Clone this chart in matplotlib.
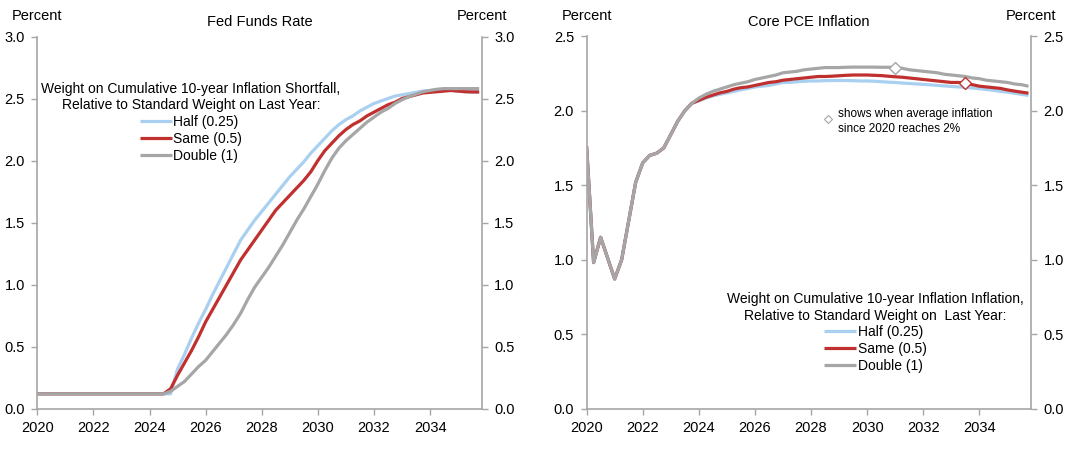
import numpy as np
import matplotlib
matplotlib.use("Agg")
import matplotlib.pyplot as plt
from matplotlib.ticker import FormatStrFormatter

plt.rcParams['font.family'] = ['Liberation Sans', 'DejaVu Sans']

# quarterly dates, 2020Q1 .. 2035Q4
dates = 2020 + 0.25 * np.arange(64)

# Fed funds rate, percent (flat at the floor through mid-2024)
ffr_half = [0.12] * 19 + [
    0.12, 0.32, 0.44, 0.57, 0.69, 0.80, 0.92, 1.03, 1.14, 1.25, 1.36, 1.44, 1.52,
    1.59, 1.66, 1.73, 1.80, 1.87, 1.93, 1.99, 2.06, 2.12, 2.18, 2.24, 2.29, 2.33,
    2.36, 2.40, 2.43, 2.46, 2.48, 2.50, 2.52, 2.53, 2.54, 2.55, 2.56, 2.565, 2.57,
    2.57, 2.565, 2.56, 2.555, 2.553, 2.553]
ffr_same = [0.12] * 19 + [
    0.16, 0.27, 0.37, 0.47, 0.58, 0.70, 0.80, 0.90, 1.00, 1.10, 1.20, 1.28, 1.36,
    1.44, 1.52, 1.60, 1.66, 1.72, 1.78, 1.84, 1.91, 2.00, 2.08, 2.14, 2.20, 2.25,
    2.29, 2.32, 2.36, 2.39, 2.42, 2.45, 2.47, 2.50, 2.515, 2.53, 2.545, 2.55, 2.555,
    2.56, 2.565, 2.56, 2.555, 2.553, 2.553]
ffr_double = [0.12] * 19 + [
    0.14, 0.18, 0.22, 0.28, 0.34, 0.39, 0.46, 0.53, 0.60, 0.68, 0.77, 0.88, 0.98,
    1.06, 1.14, 1.23, 1.32, 1.42, 1.52, 1.61, 1.71, 1.81, 1.92, 2.02, 2.10, 2.16,
    2.21, 2.26, 2.31, 2.35, 2.39, 2.42, 2.46, 2.49, 2.515, 2.535, 2.555, 2.565, 2.575,
    2.58, 2.58, 2.58, 2.58, 2.58, 2.58]

# Core PCE inflation, percent (common history through 2023)
pce_common = [1.76, 0.98, 1.15, 1.01, 0.87, 1.00, 1.26, 1.52,
              1.65, 1.70, 1.715, 1.75, 1.84, 1.93, 2.00, 2.05]
pce_half = pce_common + [
    2.065, 2.085, 2.10, 2.11, 2.12, 2.13, 2.14, 2.15,
    2.16, 2.165, 2.17, 2.18, 2.19, 2.19, 2.195, 2.198,
    2.20, 2.20, 2.202, 2.203, 2.203, 2.203, 2.202, 2.20,
    2.20, 2.198, 2.195, 2.192, 2.19, 2.186, 2.183, 2.18,
    2.177, 2.174, 2.17, 2.167, 2.163, 2.16, 2.157, 2.153,
    2.148, 2.143, 2.137, 2.13, 2.125, 2.118, 2.11, 2.103]
pce_same = pce_common + [
    2.07, 2.09, 2.105, 2.12, 2.13, 2.145, 2.155, 2.16,
    2.17, 2.18, 2.19, 2.195, 2.205, 2.21, 2.215, 2.22,
    2.225, 2.23, 2.23, 2.232, 2.235, 2.238, 2.24, 2.24,
    2.24, 2.238, 2.236, 2.232, 2.228, 2.225, 2.22, 2.215,
    2.21, 2.205, 2.20, 2.195, 2.19, 2.19, 2.185, 2.175,
    2.165, 2.16, 2.155, 2.15, 2.14, 2.132, 2.125, 2.118]
pce_double = pce_common + [
    2.085, 2.11, 2.13, 2.145, 2.16, 2.175, 2.185, 2.195,
    2.21, 2.22, 2.23, 2.24, 2.255, 2.26, 2.265, 2.275,
    2.28, 2.285, 2.29, 2.29, 2.29, 2.292, 2.293, 2.293,
    2.293, 2.293, 2.292, 2.292, 2.29, 2.285, 2.275, 2.27,
    2.265, 2.26, 2.255, 2.245, 2.24, 2.235, 2.23, 2.22,
    2.215, 2.205, 2.20, 2.195, 2.19, 2.18, 2.175, 2.165]

# quarter in which average inflation since 2020 reaches 2%
reach_double = 2031.0
reach_same = 2033.5

labels = ['Half (0.25)', 'Same (0.5)', 'Double (1)']
colors = ['#a9d0f0', '#c0302e', '#a6a6a6']
axis_grey = '#a6a6a6'
LW = 2.3

fig = plt.figure(figsize=(10.74, 4.68), dpi=100)
W, H = 1074.0, 468.0
ax1 = fig.add_axes([37.3 / W, 1 - 408.7 / H, 444.4 / W, 372.2 / H])
ax2 = fig.add_axes([586.6 / W, 1 - 408.5 / H, 444.4 / W, 372.2 / H])


def style_axis(ax, ymax, title):
    ax.set_xlim(2020, 2035.84)
    ax.set_ylim(0, ymax)
    ax.set_xticks(np.arange(2020, 2035, 2))
    ax.set_yticks(np.arange(0, ymax + 0.01, 0.5))
    ax.yaxis.set_major_formatter(FormatStrFormatter('%.1f'))
    ax.spines['top'].set_visible(False)
    for s in ['left', 'right', 'bottom']:
        ax.spines[s].set_color(axis_grey)
        ax.spines[s].set_linewidth(1.2)
    ax.tick_params(axis='both', direction='out', length=4, width=1,
                   color=axis_grey, labelsize=10.5, labelcolor='black')
    ax.tick_params(axis='y', left=True, right=True, labelleft=True,
                   labelright=True, pad=5)
    ax.tick_params(axis='x', pad=5)
    ax.text(0, 1.055, 'Percent', transform=ax.transAxes, ha='center',
            va='center', fontsize=10.5)
    ax.text(1, 1.055, 'Percent', transform=ax.transAxes, ha='center',
            va='center', fontsize=10.5)
    ax.text(0.5, 1.039, title, transform=ax.transAxes, ha='center',
            va='center', fontsize=10.5)


# left panel: fed funds rate
for y, c, lab in zip([ffr_half, ffr_same, ffr_double], colors, labels):
    ax1.plot(dates, y, color=c, lw=LW, label=lab, solid_capstyle='butt')
style_axis(ax1, 3.0, 'Fed Funds Rate')
leg1 = ax1.legend(loc='upper center', bbox_to_anchor=(0.346, 0.877),
                  frameon=False, fontsize=10, title_fontsize=10,
                  title='Weight on Cumulative 10-year Inflation Shortfall,\n'
                        'Relative to Standard Weight on Last Year:',
                  handlelength=2.3, handletextpad=0.1, labelspacing=0.2,
                  borderpad=0, borderaxespad=0)
leg1.get_title().set_multialignment('center')

# right panel: core PCE inflation
for y, c, lab in zip([pce_half, pce_same, pce_double], colors, labels):
    ax2.plot(dates, y, color=c, lw=LW, label=lab, solid_capstyle='butt')
i_d = int(round((reach_double - 2020) * 4))
i_s = int(round((reach_same - 2020) * 4))
ax2.plot(dates[i_d], pce_double[i_d], 'D', ms=6, mfc='white', mec=colors[2],
         mew=1)
ax2.plot(dates[i_s], pce_same[i_s], 'D', ms=6, mfc='white', mec=colors[1],
         mew=1)
style_axis(ax2, 2.5, 'Core PCE Inflation')
leg2 = ax2.legend(loc='upper center', bbox_to_anchor=(0.650, 0.312),
                  frameon=False, fontsize=10, title_fontsize=10,
                  title='Weight on Cumulative 10-year Inflation Inflation,\n'
                        'Relative to Standard Weight on  Last Year:',
                  handlelength=2.3, handletextpad=0.1, labelspacing=0.2,
                  borderpad=0, borderaxespad=0)
leg2.get_title().set_multialignment('center')

ax2.plot([0.543], [0.778], 'D', ms=4.5, mfc='white', mec=axis_grey, mew=0.8,
         transform=ax2.transAxes, clip_on=False)
ax2.text(0.566, 0.772, 'shows when average inflation\nsince 2020 reaches 2%',
         transform=ax2.transAxes, ha='left', va='center', fontsize=8.5,
         linespacing=1.3)

fig.savefig('out.png', dpi=100)
